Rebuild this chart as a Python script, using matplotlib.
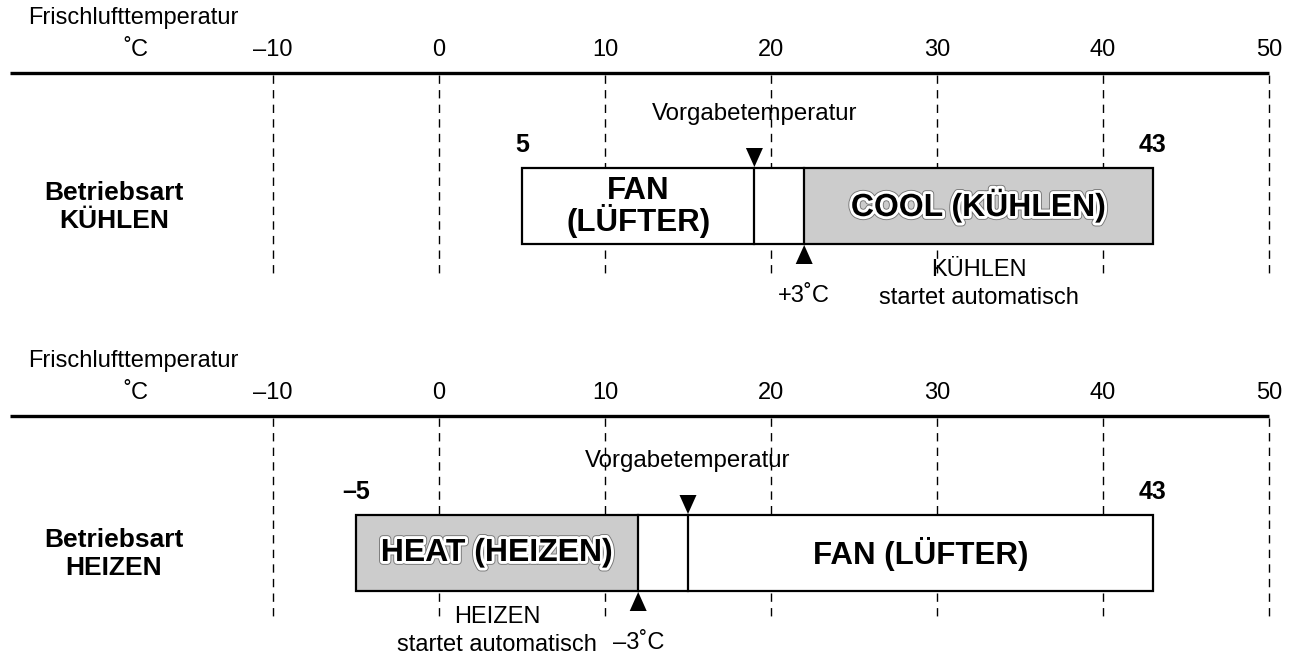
import matplotlib

matplotlib.use("Agg")
import matplotlib.pyplot as plt
import matplotlib.patheffects as pe
from matplotlib.patches import Polygon, Rectangle

plt.rcParams["font.family"] = ["Liberation Sans", "DejaVu Sans"]

# outdoor temperature scale (deg C)
TICKS = [-10, 0, 10, 20, 30, 40, 50]
TICK_LABELS = ["–10", "0", "10", "20", "30", "40", "50"]

# cooling mode: operating range, set point, offset at which cooling starts
COOL_RANGE = (5, 43)
COOL_RANGE_LABELS = ("5", "43")
COOL_SETPOINT = 19
COOL_OFFSET = 3

# heating mode
HEAT_RANGE = (-5, 43)
HEAT_RANGE_LABELS = ("–5", "43")
HEAT_SETPOINT = 15
HEAT_OFFSET = -3

GREY = "#cccccc"
PX = 16.6          # pixels per degree
X0 = 439           # pixel column of 0 degC
W, H = 1296, 655

fig = plt.figure(figsize=(W / 100, H / 100), dpi=100)
ax = fig.add_axes([0, 0, 1, 1])
ax.set_xlim(-X0 / PX, (W - X0) / PX)
ax.set_ylim(H, 0)
ax.axis("off")

outline = [pe.Stroke(linewidth=5.5, foreground="#777777"),
           pe.Stroke(linewidth=4.2, foreground="white"), pe.Normal()]


def tri(x, tip_y, down):
    hw = 8.5 / PX
    h = 19
    base = tip_y - h if down else tip_y + h
    ax.add_patch(Polygon([(x - hw, base), (x + hw, base), (x, tip_y)],
                         closed=True, color="black", lw=0, zorder=5))


def panel(axis_y, bar_top, rng, rng_labels, setpoint, offset, mode,
          side_label, note):
    bar_h = 76
    bar_bot = bar_top + bar_h
    switch = setpoint + offset

    ax.text(-X0 / PX + 28 / PX, axis_y - 55, "Frischlufttemperatur",
            fontsize=17, ha="left", va="center")
    ax.text((136 - X0) / PX, axis_y - 23, "˚C", fontsize=17,
            ha="center", va="center")
    for t, lab in zip(TICKS, TICK_LABELS):
        ax.text(t, axis_y - 23, lab, fontsize=17, ha="center", va="center")
        ax.plot([t, t], [axis_y + 2, axis_y + 206], color="black", lw=1.0,
                ls=(0, (6, 4.5)), zorder=1)
    ax.plot([(10 - X0) / PX, TICKS[-1]], [axis_y, axis_y], color="black",
            lw=2.4, solid_capstyle="butt", zorder=2)

    # operating range bar
    lo, hi = rng
    if offset > 0:
        grey_span = (switch, hi)
        fan_span = (lo, setpoint)
    else:
        grey_span = (lo, switch)
        fan_span = (setpoint, hi)
    ax.add_patch(Rectangle((lo, bar_top), hi - lo, bar_h, facecolor="white",
                           edgecolor="none", zorder=3))
    ax.add_patch(Rectangle((grey_span[0], bar_top), grey_span[1] - grey_span[0],
                           bar_h, facecolor=GREY, edgecolor="none", zorder=3))
    ax.add_patch(Rectangle((lo, bar_top), hi - lo, bar_h, facecolor="none",
                           edgecolor="black", lw=1.6, zorder=4))
    for x in (setpoint, switch):
        ax.plot([x, x], [bar_top, bar_bot], color="black", lw=1.6, zorder=4)

    ax.text(lo, bar_top - 23, rng_labels[0], fontsize=18, weight="bold",
            ha="center", va="center")
    ax.text(hi, bar_top - 23, rng_labels[1], fontsize=18, weight="bold",
            ha="center", va="center")

    # set point marker and switching point marker
    tri(setpoint, bar_top - 1, down=True)
    ax.text(setpoint, bar_top - 54, "Vorgabetemperatur", fontsize=17.3,
            ha="center", va="center")
    tri(switch, bar_bot + 1, down=False)
    sign = "+" if offset > 0 else "–"
    ax.text(switch, bar_bot + 52, f"{sign}{abs(offset)}˚C", fontsize=17,
            ha="center", va="center")

    mid = (bar_top + bar_bot) / 2
    gmid = sum(grey_span) / 2
    fmid = sum(fan_span) / 2
    ax.text(gmid, mid, mode, fontsize=23, weight="bold", ha="center",
            va="center", path_effects=outline, zorder=6)
    fan_text = "FAN\n(LÜFTER)" if offset > 0 else "FAN (LÜFTER)"
    ax.text(fmid, mid + 1, fan_text, fontsize=22.5, weight="bold", ha="center",
            va="center", linespacing=0.95, zorder=6)
    ax.text(gmid, bar_bot + 40, note + "\nstartet automatisch", fontsize=17,
            ha="center", va="center", linespacing=1.3)

    ax.text((114 - X0) / PX, mid + 1, side_label, fontsize=19, weight="bold",
            ha="center", va="center", linespacing=1.2)


panel(73, 168, COOL_RANGE, COOL_RANGE_LABELS, COOL_SETPOINT, COOL_OFFSET,
      "COOL (KÜHLEN)", "Betriebsart\nKÜHLEN", "KÜHLEN")
panel(416, 515, HEAT_RANGE, HEAT_RANGE_LABELS, HEAT_SETPOINT, HEAT_OFFSET,
      "HEAT (HEIZEN)", "Betriebsart\nHEIZEN", "HEIZEN")

fig.savefig("out.png", dpi=100)
